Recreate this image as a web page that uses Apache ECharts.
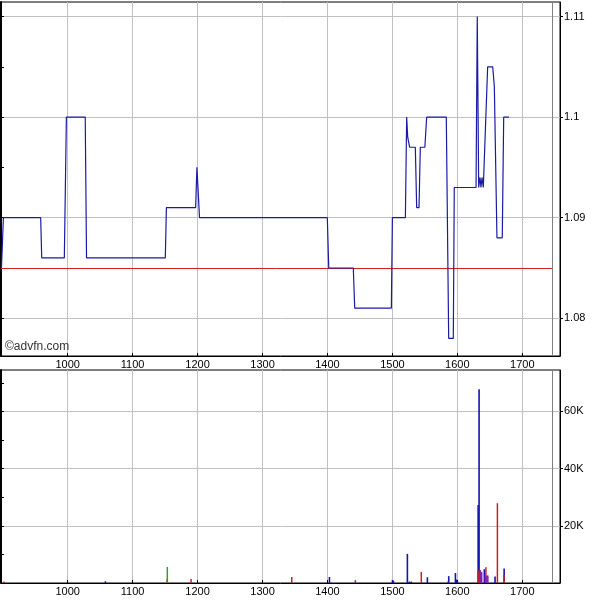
<!DOCTYPE html>
<html><head><meta charset="utf-8">
<script src="https://cdn.jsdelivr.net/npm/echarts@6/dist/echarts.min.js"></script>
<style>html,body{margin:0;padding:0;background:#fff}#c{width:598px;height:600px}</style>
</head><body><div id="c"></div>
<script>
// ---- data ----
const priceX = [898, 901, 958.4, 960, 994.8, 998, 1027, 1029, 1150.3, 1152, 1197, 1199, 1200.6, 1203, 1399.8, 1402, 1439.8, 1442, 1498.4, 1500, 1520, 1522, 1523.6, 1524.6, 1526.6, 1535.3, 1537.4, 1541, 1543, 1550, 1552.8, 1583, 1586.7, 1593.8, 1595.3, 1628.8, 1630.7, 1632.9, 1634.9, 1636.4, 1638, 1640, 1646.7, 1654.5, 1657, 1658, 1661, 1669.2, 1671.4, 1679.5];
const priceY = [1.085, 1.09, 1.09, 1.086, 1.086, 1.1, 1.1, 1.086, 1.086, 1.091, 1.091, 1.095, 1.095, 1.09, 1.09, 1.085, 1.085, 1.081, 1.081, 1.09, 1.09, 1.1, 1.098, 1.098, 1.097, 1.097, 1.091, 1.091, 1.097, 1.097, 1.1, 1.1, 1.078, 1.078, 1.093, 1.093, 1.11, 1.093, 1.094, 1.093, 1.094, 1.093, 1.105, 1.105, 1.103, 1.103, 1.088, 1.088, 1.1, 1.1];
const refPrice = 1.085;
const markerX = 1746.5;
const xTicks = [1000, 1100, 1200, 1300, 1400, 1500, 1600, 1700];
const priceTicks = [1.08, 1.09, 1.1, 1.11];
const priceMinorTicks = [1.08, 1.085, 1.09, 1.095, 1.1, 1.105, 1.11];
const volTicks = [20000, 40000, 60000];
const volMinorTicks = [10000, 20000, 30000, 40000, 50000, 60000, 70000];

const volBlueX = [1058, 1403, 1500, 1501.5, 1523, 1526, 1529, 1553.8, 1586.7, 1597, 1598.5, 1600, 1632, 1633.4, 1641.5, 1658, 1672];
const volBlueY = [600, 2100, 1000, 800, 10200, 500, 500, 2000, 2400, 3500, 1200, 800, 27300, 67800, 4800, 2300, 5100];
const volRedX = [902, 1190, 1345, 1544.5, 1585, 1632, 1634, 1644, 1661.7, 1672];
const volRedY = [500, 1400, 2100, 3900, 500, 4500, 3500, 5500, 27900, 2800];
const volPurpleX = [1443, 1635.5, 1637.5, 1643, 1645.5, 1647];
const volPurpleY = [1000, 4500, 3800, 2600, 2600, 2600];
const volGreenX = [1153.4];
const volGreenY = [5600];
const volBrownX = [1153];
const volBrownY = [1200];

// ---- chart ----
const xMin = 897.3, xMax = 1758.1;
const pMin = 1.07625, pMax = 1.11144;
const vMin = 0, vMax = 74500;
const FONT = 'Liberation Sans';
const zip = (xs, ys) => xs.map((x, i) => [x, ys[i]]);

function xAxisCfg(gi) {
  return {
    type: 'value', gridIndex: gi, min: xMin, max: xMax,
    axisLine: {show: true, lineStyle: {color: '#000', width: 1}},
    axisTick: {show: true, inside: true, length: 3, customValues: xTicks, lineStyle: {color: '#000'}},
    axisLabel: {show: true, customValues: xTicks, margin: 3, color: '#000', fontSize: 11, fontFamily: FONT,
                formatter: v => String(Math.round(v))},
    splitLine: {show: true, lineStyle: {color: '#c0c0c0', width: 1}}
  };
}

const chart = echarts.init(document.getElementById('c'), null, {renderer: 'canvas'});
chart.setOption({
  animation: false,
  backgroundColor: '#fff',
  grid: [
    {left: 1, right: 38, top: 2, height: 354, show: true, borderColor: '#000', borderWidth: 1, backgroundColor: '#fff', outerBoundsMode: 'none'},
    {left: 1, right: 38, top: 370, bottom: 17, show: true, borderColor: '#000', borderWidth: 1, backgroundColor: '#fff', outerBoundsMode: 'none'}
  ],
  xAxis: [xAxisCfg(0), xAxisCfg(1)],
  yAxis: [
    {type: 'value', gridIndex: 0, position: 'right', min: pMin, max: pMax,
     axisLine: {show: true, lineStyle: {color: '#000'}},
     axisTick: {show: true, inside: false, length: 3, customValues: priceTicks, lineStyle: {color: '#000'}},
     axisLabel: {show: true, customValues: priceTicks, margin: 4, color: '#000', fontSize: 11, fontFamily: FONT,
                 formatter: v => String(Math.round(v * 1000) / 1000)},
     splitLine: {show: true, lineStyle: {color: '#c0c0c0', width: 1}}},
    {type: 'value', gridIndex: 0, position: 'left', min: pMin, max: pMax,
     axisLine: {show: true, lineStyle: {color: '#000', width: 2}},
     axisTick: {show: true, inside: true, length: 3, customValues: priceMinorTicks, lineStyle: {color: '#000'}},
     axisLabel: {show: false}, splitLine: {show: false}},
    {type: 'value', gridIndex: 1, position: 'right', min: vMin, max: vMax,
     axisLine: {show: true, lineStyle: {color: '#000'}},
     axisTick: {show: true, inside: false, length: 3, customValues: volTicks, lineStyle: {color: '#000'}},
     axisLabel: {show: true, customValues: volTicks, margin: 4, color: '#000', fontSize: 11, fontFamily: FONT,
                 formatter: v => Math.round(v / 1000) + 'K'},
     splitLine: {show: true, lineStyle: {color: '#c0c0c0', width: 1}}},
    {type: 'value', gridIndex: 1, position: 'left', min: vMin, max: vMax,
     axisLine: {show: true, lineStyle: {color: '#000', width: 2}},
     axisTick: {show: true, inside: true, length: 3, customValues: volMinorTicks, lineStyle: {color: '#000'}},
     axisLabel: {show: false}, splitLine: {show: false}}
  ],
  graphic: [
    {type: 'text', left: 5, top: 341, z: 100,
     style: {text: '\u00a9advfn.com', fill: '#333', font: '12px "Liberation Sans"'}}
  ],
  series: [
    {type: 'line', name: 'price', xAxisIndex: 0, yAxisIndex: 0, data: zip(priceX, priceY),
     showSymbol: false, symbol: 'none', lineStyle: {color: '#1a1aa6', width: 1.2}, itemStyle: {color: '#1a1aa6'},
     z: 5,
     markLine: {silent: true, symbol: 'none', precision: 6, label: {show: false}, animation: false,
       data: [
         [{coord: [xMin, refPrice], lineStyle: {color: '#d42020', width: 1, type: 'solid'}}, {coord: [markerX, refPrice]}],
         {xAxis: markerX, lineStyle: {color: '#808080', width: 1, type: 'solid'}}
       ]}},
    {type: 'bar', name: 'blue', xAxisIndex: 1, yAxisIndex: 2, data: zip(volBlueX, volBlueY),
     barWidth: 1.6, barGap: '-100%', itemStyle: {color: '#1414b0'},
     markLine: {silent: true, symbol: 'none', precision: 6, label: {show: false}, animation: false,
       data: [{xAxis: markerX, lineStyle: {color: '#808080', width: 1, type: 'solid'}}]}},
    {type: 'bar', name: 'red', xAxisIndex: 1, yAxisIndex: 2, data: zip(volRedX, volRedY),
     barWidth: 1.5, barGap: '-100%', itemStyle: {color: '#cc2020'}},
    {type: 'bar', name: 'purple', xAxisIndex: 1, yAxisIndex: 2, data: zip(volPurpleX, volPurpleY),
     barWidth: 1.5, barGap: '-100%', itemStyle: {color: '#8020a8'}},
    {type: 'bar', name: 'green', xAxisIndex: 1, yAxisIndex: 2, data: zip(volGreenX, volGreenY),
     barWidth: 1.5, barGap: '-100%', itemStyle: {color: '#30a030'}},
    {type: 'bar', name: 'brown', xAxisIndex: 1, yAxisIndex: 2, data: zip(volBrownX, volBrownY),
     barWidth: 1.5, barGap: '-100%', itemStyle: {color: '#a06010'}}
  ]
});
</script></body></html>
